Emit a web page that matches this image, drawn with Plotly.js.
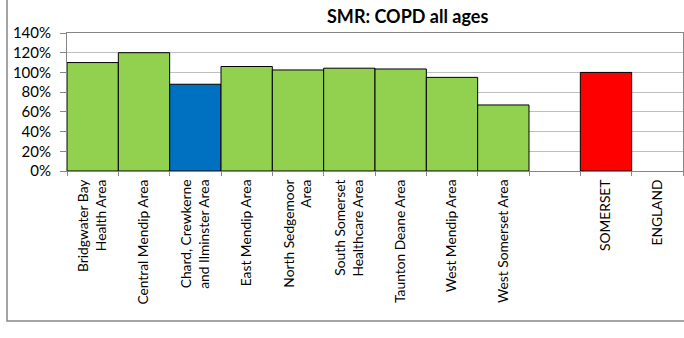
<!DOCTYPE html>
<html>
<head>
<meta charset="utf-8">
<script src="https://cdn.plot.ly/plotly-3.0.1.min.js"></script>
<style>html,body{margin:0;padding:0;background:#fff;}#chart{width:684px;height:338px;}</style>
</head>
<body>
<div id="chart"></div>
<script>
var categories = ['Bridgwater Bay<br>Health Area', 'Central Mendip Area', 'Chard, Crewkerne<br>and Ilminster Area', 'East Mendip Area', 'North Sedgemoor<br>Area', 'South Somerset<br>Healthcare Area', 'Taunton Deane Area', 'West Mendip Area', 'West Somerset Area', ' ', 'SOMERSET', 'ENGLAND'];
var smrValues = [110, 120, 88, 106, 102.5, 104.3, 103.5, 95, 67, null, 100, null];
var barColors = ['#92D050', '#92D050', '#0070C0', '#92D050', '#92D050', '#92D050', '#92D050', '#92D050', '#92D050', '#92D050', '#FF0000', '#92D050'];
var yTickVals = [0, 20, 40, 60, 80, 100, 120, 140];
var yTickLabels = ['0%', '20%', '40%', '60%', '80%', '100%', '120%', '140%'];

var trace = {
  type: 'bar',
  x: categories,
  y: smrValues,
  marker: {color: barColors, line: {color: '#000000', width: 1}},
  hoverinfo: 'skip'
};

var layout = {
  width: 684, height: 338,
  margin: {l: 67, r: 1, t: 33, b: 167},
  paper_bgcolor: '#ffffff', plot_bgcolor: '#ffffff',
  showlegend: false,
  bargap: 0,
  title: {
    text: '<b>SMR: COPD all ages</b>',
    font: {family: 'Lato, sans-serif', size: 18, color: '#000'},
    xref: 'container', x: 0.596, xanchor: 'center',
    yref: 'container', y: 0.95, yanchor: 'middle'
  },
  xaxis: {
    type: 'category',
    tickangle: -90,
    tickson: 'boundaries',
    ticks: 'outside', ticklen: 4, tickcolor: '#868686',
    ticklabelstandoff: 2,
    showline: true, linecolor: '#868686', linewidth: 1, mirror: true,
    showgrid: false,
    tickfont: {family: 'Lato, sans-serif', size: 13.8, color: '#000'},
    fixedrange: true
  },
  yaxis: {
    range: [0, 140],
    tickmode: 'array',
    tickvals: yTickVals,
    ticktext: yTickLabels,
    ticks: 'outside', ticklen: 6, tickcolor: '#868686',
    ticklabelstandoff: 6,
    showline: true, linecolor: '#868686', linewidth: 1, mirror: true,
    showgrid: true, gridcolor: '#BFBFBF', gridwidth: 1,
    zeroline: false,
    tickfont: {family: 'Lato, sans-serif', size: 15, color: '#000'},
    fixedrange: true
  },
  shapes: [{
    type: 'rect', xref: 'paper', yref: 'paper',
    x0: -0.0974, x1: 1.2, y0: -1.087, y1: 1.5,
    line: {color: '#888888', width: 1.5}, fillcolor: 'rgba(0,0,0,0)', layer: 'below'
  }]
};

Plotly.newPlot('chart', [trace], layout, {displayModeBar: false, staticPlot: true});
</script>
</body>
</html>
